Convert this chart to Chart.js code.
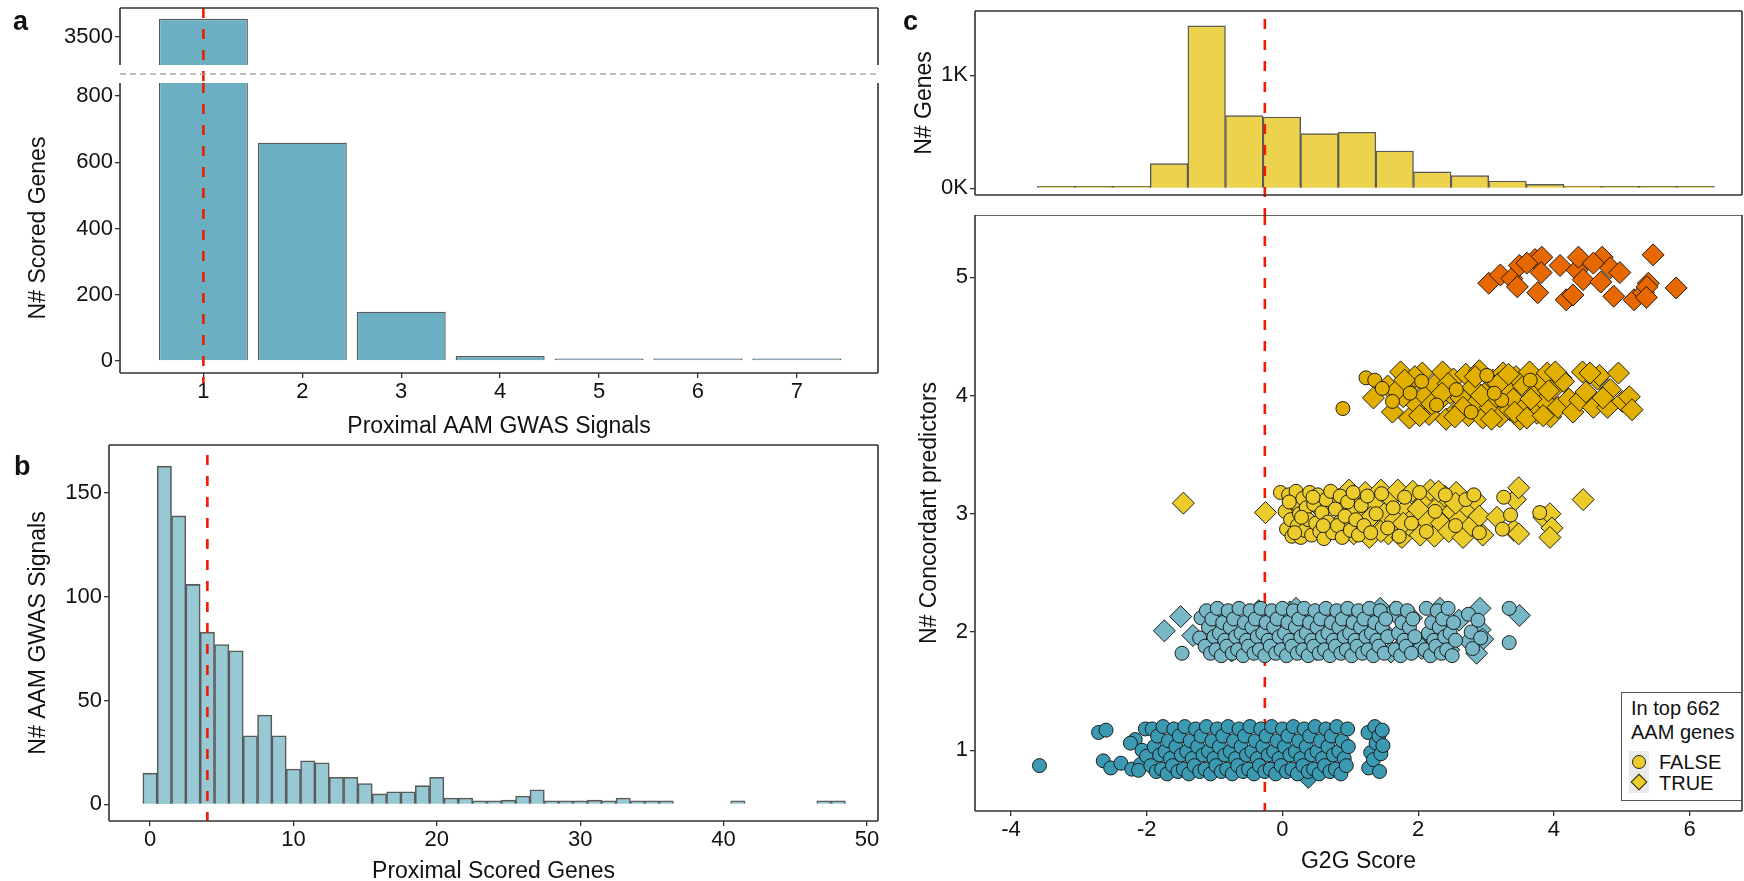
<!DOCTYPE html>
<html>
<head>
<meta charset="utf-8">
<script src="https://cdn.jsdelivr.net/npm/chart.js@4.4.1/dist/chart.umd.min.js"></script>
<style>
  body { margin: 0; background: #fff; }
  #fig { position: relative; width: 1744px; height: 881px; overflow: hidden; font-family: "Liberation Sans", Arial, sans-serif; color: #111; }
  #fig canvas { position: absolute; }
  .tag { position: absolute; font-weight: bold; font-size: 27px; line-height: 27px; }
  #legend { position: absolute; left: 1621px; top: 692px; width: 121px; height: 109px; box-sizing: border-box; border: 1.5px solid #555; background: #fff; font-size: 20px; }
  #legend .lt { position: absolute; left: 9px; top: 3px; line-height: 24px; }
  #legend .keybg { position: absolute; left: 7px; top: 58px; width: 20px; height: 42px; background: #ebebeb; }
  #legend .dot { position: absolute; left: 10px; top: 62px; width: 14px; height: 14px; border-radius: 50%; background: #EBCC2A; border: 1px solid #222; box-sizing: border-box; }
  #legend .dia { position: absolute; left: 11px; top: 83px; width: 12px; height: 12px; transform: rotate(45deg); background: #EBCC2A; border: 1px solid #222; box-sizing: border-box; }
  #legend .lab { position: absolute; left: 37px; line-height: 24px; }
</style>
</head>
<body>
<div id="fig">
  <canvas id="cA1" width="880" height="83" style="left:0;top:0"></canvas>
  <canvas id="cA2" width="880" height="357" style="left:0;top:83px"></canvas>
  <canvas id="cB" width="880" height="441" style="left:0;top:440px"></canvas>
  <canvas id="cC1" width="864" height="215" style="left:880px;top:0"></canvas>
  <canvas id="cC2" width="864" height="666" style="left:880px;top:215px"></canvas>
  <div class="tag" style="left:13px;top:8px">a</div>
  <div class="tag" style="left:14px;top:453px">b</div>
  <div class="tag" style="left:903px;top:8px">c</div>
  <div id="legend">
    <div class="lt">In top 662<br>AAM genes</div>
    <div class="keybg"></div>
    <div class="dot"></div>
    <div class="dia"></div>
    <div class="lab" style="top:57px">FALSE</div>
    <div class="lab" style="top:78px">TRUE</div>
  </div>
</div>
<script>
// panel a: scored genes by number of proximal signals
const aSignals = [1, 2, 3, 4, 5, 6, 7];
const aGenes = [3650, 659, 149, 15, 5, 4, 1];
const aTicksTop = [3500];
const aTicksLow = [0, 200, 400, 600, 800];

// panel b: signals by number of proximal scored genes
const bGenes = [0,1,2,3,4,5,6,7,8,9,10,11,12,13,14,15,16,17,18,19,20,21,22,23,24,25,26,27,28,29,30,31,32,33,34,35,36,37,38,39,40,41,42,43,44,45,46,47,48];
const bSignals = [15,163,139,106,83,77,74,33,43,33,17,21,20,13,13,10,5,6,6,9,13,3,3,1,1,2,4,7,1,1,1,2,1,3,1,1,1,null,null,null,null,1,null,null,null,null,null,1,1];
const bTicksX = [0, 10, 20, 30, 40, 50];
const bTicksY = [0, 50, 100, 150];

// panel c: G2G score histogram
const cBinMid = [-3.333,-2.779,-2.225,-1.671,-1.117,-0.563,-0.009,0.545,1.099,1.653,2.207,2.761,3.315,3.869,4.423,4.977,5.531,6.085];
const cBinCount = [2,3,9,218,1437,643,631,484,496,330,145,112,65,35,20,10,5,2];
const cTicksHist = [0, 1000];
const cTicksX = [-4, -2, 0, 2, 4, 6];
const cTicksY = [1, 2, 3, 4, 5];

const cutA = 1, cutB = 4, cutC = -0.26;

// panel c scatter: [G2G score, concordant predictors (jittered)]
const row1False = [
  [-3.58,0.87],[-2.71,1.15],[-2.6,1.17],[-2.64,0.91],[-2.53,0.85],[-2.38,0.89],[-2.22,0.84],[-2.09,0.88],[-2.17,1.09],[-2.24,1.06],[-2.07,1.0],[-2.12,0.83],[-2.02,1.18],[-2.0,0.95],
  [-1.92,1.18],[-1.89,1.03],[-1.94,0.87],[-1.84,1.12],[-1.81,0.96],[-1.86,0.82],[-1.76,1.2],[-1.73,0.99],[-1.78,0.84],[-1.68,1.08],[-1.65,0.93],[-1.7,0.8],
  [-1.6,1.18],[-1.57,1.03],[-1.62,0.87],[-1.52,1.12],[-1.49,0.96],[-1.54,0.82],[-1.44,1.2],[-1.41,0.99],[-1.46,0.84],[-1.36,1.08],[-1.33,0.93],[-1.38,0.8],
  [-1.28,1.18],[-1.25,1.03],[-1.3,0.87],[-1.2,1.12],[-1.17,0.96],[-1.22,0.82],[-1.12,1.2],[-1.09,0.99],[-1.14,0.84],[-1.04,1.08],[-1.01,0.93],[-1.06,0.8],
  [-0.96,1.18],[-0.93,1.03],[-0.98,0.87],[-0.88,1.12],[-0.85,0.96],[-0.9,0.82],[-0.8,1.2],[-0.77,0.99],[-0.82,0.84],[-0.72,1.08],[-0.69,0.93],[-0.74,0.8],
  [-0.64,1.18],[-0.61,1.03],[-0.66,0.87],[-0.56,1.12],[-0.53,0.96],[-0.58,0.82],[-0.48,1.2],[-0.45,0.99],[-0.5,0.84],[-0.4,1.08],[-0.37,0.93],[-0.42,0.8],
  [-0.32,1.18],[-0.29,1.03],[-0.34,0.87],[-0.24,1.12],[-0.21,0.96],[-0.26,0.82],[-0.16,1.2],[-0.13,0.99],[-0.18,0.84],[-0.08,1.08],[-0.05,0.93],[-0.1,0.8],
  [0,1.18],[0.03,1.03],[-0.02,0.87],[0.08,1.12],[0.11,0.96],[0.06,0.82],[0.16,1.2],[0.19,0.99],[0.14,0.84],[0.24,1.08],[0.27,0.93],[0.22,0.8],
  [0.32,1.18],[0.35,1.03],[0.3,0.87],[0.4,1.12],[0.43,0.96],[0.38,0.82],[0.48,1.2],[0.51,0.99],[0.46,0.84],[0.56,1.08],[0.59,0.93],[0.54,0.8],
  [0.64,1.18],[0.67,1.03],[0.62,0.87],[0.72,1.12],[0.75,0.96],[0.7,0.82],[0.8,1.2],[0.83,0.99],[0.78,0.84],[0.88,1.08],[0.91,0.93],[0.86,0.8],
  [0.96,1.18],[0.97,1.03],[0.94,0.87],
  [1.26,1.15],[1.3,0.98],[1.27,0.85],[1.36,1.2],[1.38,1.06],[1.34,0.92],[1.42,1.12],[1.45,0.97],[1.43,0.82],[1.48,1.04],[1.47,1.17]
];
const row1True = [[0.38,0.77]];

const row2False = [
  [-1.48,1.82],[-1.2,2.12],[-1.22,1.95],
  [-1.12,2.18],[-1.09,2.04],[-1.14,1.88],[-1.04,2.11],[-1.01,1.96],[-1.06,1.82],[-0.96,2.2],[-0.93,1.99],[-0.98,1.85],[-0.88,2.08],[-0.85,1.93],[-0.9,1.8],
  [-0.8,2.18],[-0.77,2.04],[-0.82,1.88],[-0.72,2.11],[-0.69,1.96],[-0.74,1.82],[-0.64,2.2],[-0.61,1.99],[-0.66,1.85],[-0.56,2.08],[-0.53,1.93],[-0.58,1.8],
  [-0.48,2.18],[-0.45,2.04],[-0.5,1.88],[-0.4,2.11],[-0.37,1.96],[-0.42,1.82],[-0.32,2.2],[-0.29,1.99],[-0.34,1.85],[-0.24,2.08],[-0.21,1.93],[-0.26,1.8],
  [-0.16,2.18],[-0.13,2.04],[-0.18,1.88],[-0.08,2.11],[-0.05,1.96],[-0.1,1.82],[0,2.2],[0.03,1.99],[-0.02,1.85],[0.08,2.08],[0.11,1.93],[0.06,1.8],
  [0.16,2.18],[0.19,2.04],[0.14,1.88],[0.24,2.11],[0.27,1.96],[0.22,1.82],[0.32,2.2],[0.35,1.99],[0.3,1.85],[0.4,2.08],[0.43,1.93],[0.38,1.8],
  [0.48,2.18],[0.51,2.04],[0.46,1.88],[0.56,2.11],[0.59,1.96],[0.54,1.82],[0.64,2.2],[0.67,1.99],[0.62,1.85],[0.72,2.08],[0.75,1.93],[0.7,1.8],
  [0.8,2.18],[0.83,2.04],[0.78,1.88],[0.88,2.11],[0.91,1.96],[0.86,1.82],[0.96,2.2],[0.99,1.99],[0.94,1.85],[1.04,2.08],[1.07,1.93],[1.02,1.8],
  [1.12,2.18],[1.15,2.04],[1.1,1.88],[1.2,2.11],[1.23,1.96],[1.18,1.82],[1.28,2.2],[1.31,1.99],[1.26,1.85],[1.36,2.08],[1.39,1.93],[1.34,1.8],
  [1.44,2.18],[1.47,2.04],[1.42,1.88],[1.52,2.11],[1.55,1.96],[1.5,1.82],[1.68,2.2],[1.71,1.99],[1.66,1.85],[1.76,2.08],[1.79,1.93],[1.74,1.8],
  [1.84,2.18],[1.87,2.04],[1.82,1.88],[1.92,2.11],[1.95,1.96],[1.9,1.82],[2.12,2.2],[2.15,1.99],[2.1,1.85],[2.2,2.08],[2.23,1.93],[2.18,1.8],
  [2.28,2.18],[2.31,2.04],[2.26,1.88],[2.36,2.11],[2.39,1.96],[2.34,1.82],[2.44,2.2],[2.47,1.99],[2.42,1.85],[2.52,2.08],[2.55,1.93],[2.5,1.8],
  [2.74,2.15],[2.78,2.0],[2.8,1.86],[2.88,2.1],[2.92,1.95],[3.34,2.2],[3.34,1.91]
];
const row2True = [
  [-1.74,2.01],[-1.5,2.13],[-1.32,1.97],[-0.47,2.06],[-0.75,1.84],[0.11,2.17],[0.36,2.06],[0.73,2.07],[0.75,1.9],[1.0,1.98],[1.44,2.2],[1.49,2.0],
  [1.81,1.91],[2.32,2.2],[2.32,2.03],[2.91,2.2],[2.91,2.02],[2.95,1.94],[2.86,1.82],[3.49,2.14],[-0.9,2.15],[-0.2,1.88],[0.5,1.85],[1.25,2.12],
  [1.65,2.17],[2.05,1.86],[2.6,2.1],[2.76,1.92],[0.2,2.2],[-1.05,1.9],[1.9,2.12],[2.2,1.97],[0.92,2.16],[-0.35,2.18],[1.6,1.83],[2.45,1.85]
];

const row3False = [
  [-0.03,3.18],[0.04,3.02],[0.06,2.87],[0.09,3.16],[0.12,2.95],[0.14,2.81],[0.17,3.09],[0.2,3.19],[0.22,2.9],[0.25,3.0],[0.27,2.8],[0.3,3.13],[0.33,2.86],
  [0.35,3.05],[0.38,2.95],[0.4,3.18],[0.43,2.82],[0.46,3.08],[0.49,2.92],[0.52,3.16],[0.55,2.85],[0.58,3.01],[0.61,2.79],[0.64,3.12],[0.67,2.93],[0.71,3.19],
  [0.74,2.84],[0.78,3.04],[0.81,2.9],[0.85,3.15],[0.88,2.8],[0.92,2.98],[0.96,3.1],[1.0,2.86],[1.04,3.18],[1.08,2.95],[1.12,2.82],[1.16,3.07],[1.2,2.9],
  [1.25,3.15],[1.3,2.84],[1.38,3.0],[1.46,3.17],[1.55,2.88],[1.63,3.05],[1.72,2.81],[1.8,3.14],[1.9,2.92],[2.02,3.18],[2.12,2.85],[2.25,3.02],[2.4,3.16],
  [2.55,2.9],[2.7,3.12],[2.82,3.16],[2.9,2.84],[3.26,3.14],[3.36,2.99],[3.24,2.87],[3.79,3.01],[0.1,3.1],[0.28,2.97],[0.45,3.14],[0.6,2.9],[0.18,2.84]
];
const row3True = [
  [-1.46,3.09],[-0.25,3.01],
  [0.55,3.05],[0.7,2.88],[0.82,3.12],[0.9,2.95],[0.98,3.2],[1.05,2.83],[1.1,3.05],[1.18,2.96],[1.22,3.18],[1.28,2.8],[1.34,3.08],[1.4,2.9],[1.45,3.2],
  [1.5,3.0],[1.56,2.83],[1.6,3.13],[1.66,2.95],[1.7,3.2],[1.76,2.8],[1.82,3.04],[1.87,2.9],[1.92,3.19],[1.97,2.99],[2.03,2.82],[2.08,3.1],[2.13,2.94],
  [2.18,3.2],[2.24,2.81],[2.29,3.06],[2.34,2.92],[2.39,3.15],[2.45,2.85],[2.5,3.02],[2.56,3.18],[2.61,2.95],[2.66,2.8],[2.72,3.06],[2.78,2.9],[2.84,3.12],
  [2.9,2.98],[2.95,2.82],[2.3,3.19],[1.45,2.85],[1.03,3.0],[2.0,3.04],[2.55,3.09],[1.3,2.97],[1.78,2.92],
  [3.16,2.97],[3.41,2.86],[3.48,2.83],[3.43,3.12],[3.48,3.22],[3.85,2.97],[3.94,3.0],[3.97,2.88],[3.94,2.8],[4.43,3.12]
];

const row4False = [
  [0.89,3.89],[1.23,4.15],[1.36,4.13],[1.47,4.06],[1.62,3.95],[2.05,4.12],[2.27,3.92],[2.56,4.05],[3.01,4.17],[3.23,3.96],[2.78,3.86],[1.88,4.02],[3.12,4.02],[3.65,4.13]
];
const row4True = [
  [1.34,3.98],[1.55,4.08],[1.62,3.86],[1.74,4.2],[1.78,3.99],[1.87,3.81],[1.92,4.1],[1.98,3.92],[2.06,4.19],[2.1,4.0],[2.16,3.84],[2.24,4.09],[2.3,3.95],
  [2.36,4.2],[2.41,3.8],[2.47,4.02],[2.52,4.14],[2.58,3.88],[2.63,3.98],[2.7,4.18],[2.74,3.83],[2.8,4.07],[2.86,3.94],[2.9,4.21],[2.95,3.81],[3.0,4.03],
  [3.06,3.9],[3.1,4.13],[3.15,3.99],[3.2,3.82],[3.25,4.19],[3.3,4.05],[3.35,3.88],[3.4,3.97],[3.44,4.16],[3.5,3.8],[3.55,4.08],[3.6,3.92],[3.64,4.2],
  [3.7,4.01],[3.75,3.85],[3.8,4.12],[3.86,3.95],[3.9,4.19],[3.95,3.82],[4.0,4.06],[4.06,3.9],[4.1,4.15],
  [4.14,4.12],[4.22,3.97],[4.28,3.86],[4.38,3.96],[4.42,4.2],[4.47,4.03],[4.58,3.9],[4.64,4.14],[4.67,4.17],[4.79,3.9],[4.83,4.05],[4.95,4.19],
  [5.01,3.95],[5.11,3.99],[5.15,3.88],[4.53,4.19],[4.72,3.98],
  [1.68,4.04],[1.95,4.16],[2.2,3.93],[2.44,4.1],[2.66,3.9],[2.93,4.0],[3.18,4.1],[3.42,3.86],[3.66,3.97],[3.92,4.04],[2.02,3.83],[2.54,3.82],
  [3.08,3.8],[3.6,3.81],[1.8,4.13],[2.35,4.02],[2.84,4.16],[3.33,4.18],[3.84,3.83],[4.02,4.2]
];

const row5True = [
  [3.04,4.95],[3.21,5.02],[3.38,4.99],[3.46,4.92],[3.49,5.10],[3.72,5.15],[3.82,5.17],[3.81,5.04],[3.76,4.87],[4.09,5.10],[4.18,4.81],[4.28,4.85],
  [4.34,5.06],[4.36,5.17],[4.43,4.98],[4.71,5.17],[4.69,4.96],[4.83,5.08],[4.97,5.04],[4.88,4.84],[5.18,4.81],[5.32,4.87],[5.39,4.95],[5.37,4.92],
  [5.46,5.19],[5.80,4.91],[3.60,5.12],[4.58,5.12],[5.36,4.83]
];

const rowColors = ['#3B9AB2', '#78B7C5', '#EBCC2A', '#E1AF00', '#E86800'];
const AXIS = '#333';
const INK = '#111';
const RED = '#F21A00';

Chart.defaults.font.family = '"Liberation Sans", Arial, sans-serif';
Chart.defaults.color = INK;

// box around the plot area, sides picked per chart
const framePlugin = {
  id: 'frame',
  afterDraw(chart, args, opts) {
    const { ctx, chartArea: a } = chart;
    const s = opts.sides || '';
    ctx.save();
    ctx.strokeStyle = AXIS;
    ctx.lineWidth = 1.6;
    ctx.beginPath();
    if (s.includes('t')) { ctx.moveTo(a.left, a.top); ctx.lineTo(a.right, a.top); }
    if (s.includes('b')) { ctx.moveTo(a.left, a.bottom); ctx.lineTo(a.right, a.bottom); }
    if (s.includes('l')) { ctx.moveTo(a.left, a.top); ctx.lineTo(a.left, a.bottom); }
    if (s.includes('r')) { ctx.moveTo(a.right, a.top); ctx.lineTo(a.right, a.bottom); }
    ctx.stroke();
    if (opts.breakAt) {
      ctx.strokeStyle = '#aaa';
      ctx.lineWidth = 1.5;
      ctx.setLineDash([6, 4]);
      ctx.beginPath();
      ctx.moveTo(a.left, a.bottom + opts.breakAt);
      ctx.lineTo(a.right, a.bottom + opts.breakAt);
      ctx.stroke();
    }
    ctx.restore();
  }
};

// red dashed cut-off line
function drawCut(chart, opts) {
  const { ctx, chartArea: a } = chart;
  const x = chart.scales.x.getPixelForValue(opts.value);
  ctx.save();
  ctx.strokeStyle = RED;
  ctx.lineWidth = 2.6;
  ctx.setLineDash([10, 11]);
  ctx.beginPath();
  ctx.moveTo(x, a.top + (opts.start || 0));
  ctx.lineTo(x, a.bottom + (opts.extend || 0));
  ctx.stroke();
  ctx.restore();
}
const cutPlugin = {
  id: 'cut',
  beforeDatasetsDraw(chart, args, opts) { if (opts.value != null && opts.under) drawCut(chart, opts); },
  afterDatasetsDraw(chart, args, opts) { if (opts.value != null && !opts.under) drawCut(chart, opts); }
};
Chart.register(framePlugin, cutPlugin);

// fixed axis sizes so every plot box lands where the figure has it
function yAxis(min, max, ticks, width, fmt, title, titlePad) {
  return {
    type: 'linear', min, max,
    afterFit: s => { s.width = width; s.paddingTop = 0; s.paddingBottom = 0; },
    afterBuildTicks: s => { s.ticks = ticks.map(v => ({ value: v })); },
    border: { display: false },
    grid: { drawOnChartArea: false, drawTicks: true, tickLength: 5, color: AXIS, lineWidth: 1.3 },
    ticks: { font: { size: 22 }, color: INK, padding: 2, callback: fmt },
    title: title ? { display: true, text: title, font: { size: 23 }, color: INK, padding: { top: titlePad, bottom: 0 } } : { display: false }
  };
}
function xAxis(min, max, ticks, height, title, titlePad) {
  return {
    type: 'linear', min, max, offset: false,
    afterFit: s => { s.height = height; s.paddingLeft = 0; s.paddingRight = 0; },
    afterBuildTicks: s => { s.ticks = ticks.map(v => ({ value: v })); },
    border: { display: false },
    grid: { offset: false, drawOnChartArea: false, drawTicks: true, tickLength: 5, color: AXIS, lineWidth: 1.3 },
    ticks: { font: { size: 22 }, color: INK, padding: 1, maxRotation: 0, autoSkip: false, callback: v => String(v) },
    title: { display: true, text: title, font: { size: 23 }, color: INK, padding: { top: 0, bottom: titlePad } }
  };
}
function hiddenX(min, max, ticks) {
  return {
    type: 'linear', min, max, offset: false, display: false,
    afterBuildTicks: s => { s.ticks = ticks.map(v => ({ value: v })); }
  };
}
function lay(top, bottom) {
  return { autoPadding: false, padding: { top, right: 2, bottom, left: 0 } };
}
const base = {
  responsive: false, animation: false, events: [], devicePixelRatio: 1
};
const quiet = { legend: { display: false }, tooltip: { enabled: false } };

function pts(arr) { return arr.map(p => ({ x: p[0], y: p[1] })); }

// panel a, upper part of the broken axis
const aData = aSignals.map((s, i) => ({ x: s, y: aGenes[i] }));
const aBars = { data: aData, backgroundColor: '#6BAFC3', borderColor: '#5a5a5a', borderWidth: 1.4, barPercentage: 0.9, categoryPercentage: 1 };
new Chart(document.getElementById('cA1'), {
  type: 'bar',
  data: { datasets: [{ ...aBars }] },
  options: {
    ...base,
    layout: lay(8, 18),
    scales: {
      x: hiddenX(0.157, 7.82, aSignals),
      y: yAxis(3258, 3742, aTicksTop, 120, v => String(v))
    },
    plugins: { ...quiet, frame: { sides: 'tlr', breakAt: 9 }, cut: { value: cutA, extend: 18 } }
  }
});

// panel a, lower part
new Chart(document.getElementById('cA2'), {
  type: 'bar',
  data: { datasets: [{ ...aBars, minBarLength: 2.5 }] },
  options: {
    ...base,
    layout: lay(0, 0),
    scales: {
      x: xAxis(0.157, 7.82, aSignals, 67, 'Proximal AAM GWAS Signals', 0),
      y: yAxis(-36.2, 839.2, aTicksLow, 120, v => String(v), 'N# Scored Genes', 25)
    },
    plugins: { ...quiet, frame: { sides: 'lrb' }, cut: { value: cutA, extend: 10 } }
  }
});

// panel b
new Chart(document.getElementById('cB'), {
  type: 'bar',
  data: { datasets: [{ data: bGenes.map((g, i) => ({ x: g, y: bSignals[i] })), backgroundColor: '#97C9D5', borderColor: '#5a5a5a', borderWidth: 1.6, barPercentage: 1, categoryPercentage: 1, minBarLength: 3.5 }] },
  options: {
    ...base,
    layout: lay(5, 0),
    scales: {
      x: xAxis(-2.86, 50.77, bTicksX, 60, 'Proximal Scored Genes', -4),
      y: yAxis(-8.05, 173.2, bTicksY, 109, v => String(v), 'N# AAM GWAS Signals', 25)
    },
    plugins: { ...quiet, frame: { sides: 'tlrb' }, cut: { value: cutB, start: 10 } }
  }
});

// panel c, histogram on top
new Chart(document.getElementById('cC1'), {
  type: 'bar',
  data: { datasets: [{ data: cBinMid.map((m, i) => ({ x: m, y: cBinCount[i] })), backgroundColor: '#EDD24D', borderColor: '#5a5a5a', borderWidth: 1.4, barPercentage: 1, categoryPercentage: 1, minBarLength: 2 }] },
  options: {
    ...base,
    layout: lay(11, 20),
    scales: {
      x: hiddenX(-4.53, 6.77, cTicksX),
      y: yAxis(-59, 1569, cTicksHist, 95, v => (v / 1000) + 'K', 'N# Genes', 31)
    },
    plugins: { ...quiet, frame: { sides: 'tlrb' }, cut: { value: cutC, start: 8, extend: 20 } }
  }
});

// panel c, jittered scatter
const rows = [[row1False, row1True], [row2False, row2True], [row3False, row3True], [row4False, row4True], [[], row5True]];
const scatterSets = [];
rows.forEach((r, i) => {
  scatterSets.push({ data: pts(r[0]), pointStyle: 'circle', pointRadius: 7, backgroundColor: rowColors[i], borderColor: 'rgba(20,20,20,0.95)', borderWidth: 1 });
  scatterSets.push({ data: pts(r[1]), pointStyle: 'rectRot', pointRadius: 11, backgroundColor: rowColors[i], borderColor: 'rgba(20,20,20,0.95)', borderWidth: 1 });
});
new Chart(document.getElementById('cC2'), {
  type: 'scatter',
  data: { datasets: scatterSets },
  options: {
    ...base,
    layout: lay(0, 0),
    scales: {
      x: xAxis(-4.53, 6.77, cTicksX, 70, 'G2G Score', 6),
      y: yAxis(0.486, 5.527, cTicksY, 95, v => String(v), 'N# Concordant predictors', 36)
    },
    plugins: { ...quiet, frame: { sides: 'tlrb' }, cut: { value: cutC, under: true } }
  }
});
</script>
</body>
</html>
